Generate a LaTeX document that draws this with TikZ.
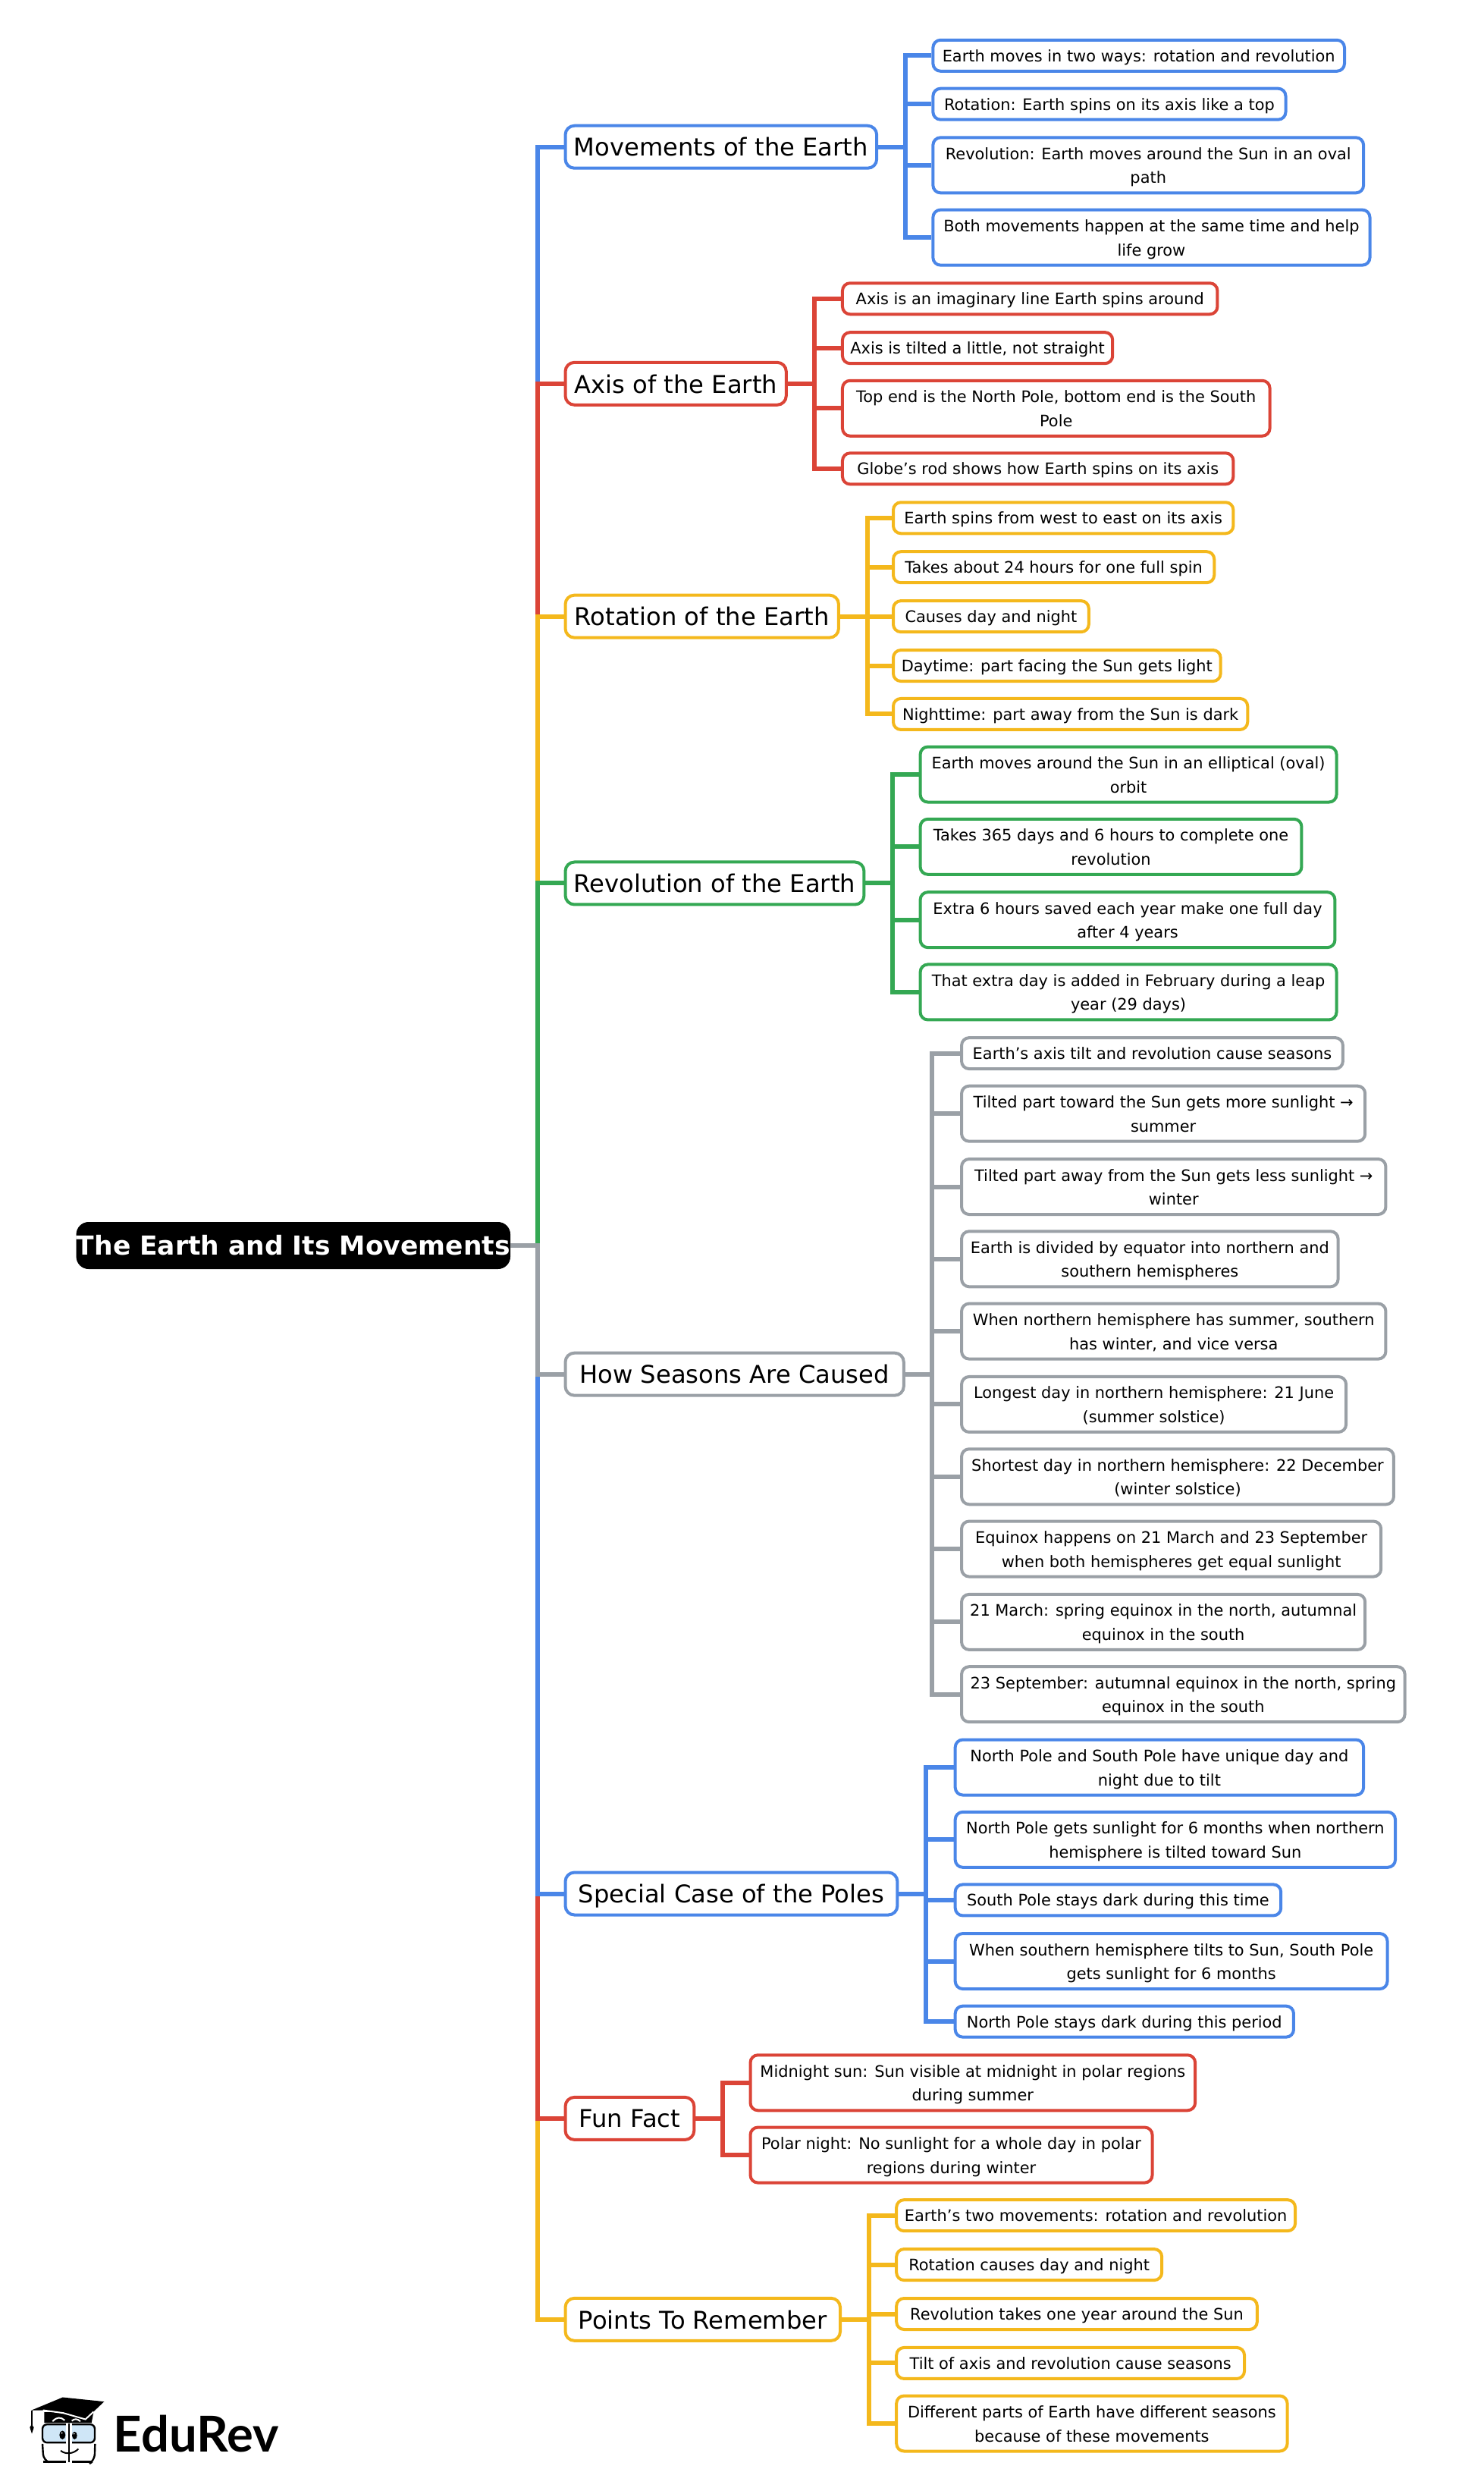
\documentclass[tikz,border=0pt]{standalone}
\usepackage{fontspec}
\setmainfont{DejaVu Sans}
\newfontfamily\logofont{Lato}
\definecolor{mapblue}{HTML}{4A86E8}
\definecolor{mapred}{HTML}{DB4437}
\definecolor{mapyellow}{HTML}{F4B81C}
\definecolor{mapgreen}{HTML}{34A853}
\definecolor{mapgray}{HTML}{9AA0A6}
\definecolor{logoglass}{HTML}{CFE6F7}
\newcommand\leafstrut{\rule[-3.9pt]{0pt}{15.7pt}}
\newcommand\twostrut{\rule[-3.9pt]{0pt}{31.8pt}}
\tikzset{
  boxw/.style={minimum width=1.0472pt*#1-2pt},
  rootbox/.style={draw=black,fill=black,text=white,anchor=west,inner sep=0pt,rounded corners=8pt,
    minimum height=30.6pt,font=\fontsize{17.25}{20}\selectfont\bfseries},
  branchbox/.style={draw=#1,line width=2pt,fill=white,anchor=west,inner sep=0pt,rounded corners=6pt,
    minimum height=28pt,text depth=0pt,font=\fontsize{16.1}{19}\selectfont},
  leafbox/.style={draw=#1,line width=2pt,fill=white,anchor=west,inner sep=0pt,rounded corners=5pt,
    minimum height=20.5pt,align=center,font=\fontsize{10.45}{15.75}\selectfont,
    execute at begin node=\leafstrut},
  two/.style={minimum height=36.5pt,execute at begin node=\twostrut},
  elbow/.style={to path={(\tikztostart.east) -- ++(#1,0) |- (\tikztotarget.west)}},
  linkline/.style={draw=#1,line width=3pt}
}
\begin{document}
\begin{tikzpicture}[x=1.0472pt,y=-1.0472pt]
  \useasboundingbox (0,0) rectangle (934.4,1568);
  \node[rootbox,boxw=273] (root) at (48,784) {The Earth and Its Movements};
  \node[branchbox=mapblue,boxw=198] (b1) at (355,92.5) {Movements of the Earth};
  \node[branchbox=mapred,boxw=141] (b2) at (355,241.5) {Axis of the Earth};
  \node[branchbox=mapyellow,boxw=174] (b3) at (355,388) {Rotation of the Earth};
  \node[branchbox=mapgreen,boxw=190] (b4) at (355,556) {Revolution of the Earth};
  \node[branchbox=mapgray,boxw=215] (b5) at (355,865) {How Seasons Are Caused};
  \node[branchbox=mapblue,boxw=211] (b6) at (355,1192) {Special Case of the Poles};
  \node[branchbox=mapred,boxw=83] (b7) at (355,1333.5) {Fun Fact};
  \node[branchbox=mapyellow,boxw=175] (b8) at (355,1460) {Points To Remember};
  % trunk
  \path[elbow=17] (root) edge[linkline=mapblue] (b1);
  \path[elbow=17] (root) edge[linkline=mapred] (b2);
  \path[elbow=17] (root) edge[linkline=mapyellow] (b3);
  \path[elbow=17] (root) edge[linkline=mapgreen] (b4);
  \path[elbow=17] (root) edge[linkline=mapyellow] (b8);
  \path[elbow=17] (root) edge[linkline=mapred] (b7);
  \path[elbow=17] (root) edge[linkline=mapblue] (b6);
  \path[elbow=17] (root) edge[linkline=mapgray] (b5);
  % movements
  \begin{scope}[every node/.style={leafbox=mapblue},every edge/.style={linkline=mapblue,elbow=17}]
  \node[boxw=261] (l11) at (586.5,35) {Earth moves in two ways: rotation and revolution};
  \node[boxw=224] (l12) at (586.5,65.5) {Rotation: Earth spins on its axis like a top};
  \node[two,boxw=273] (l13) at (586.5,104) {Revolution: Earth moves around the Sun in an oval\\path};
  \node[two,boxw=277] (l14) at (586.5,149.5) {Both movements happen at the same time and help\\life grow};
  \path (b1) edge (l11);
  \path (b1) edge (l12);
  \path (b1) edge (l13);
  \path (b1) edge (l14);
  \end{scope}
  % axis
  \begin{scope}[every node/.style={leafbox=mapred},every edge/.style={linkline=mapred,elbow=17}]
  \node[boxw=238] (l21) at (529.5,188) {Axis is an imaginary line Earth spins around};
  \node[boxw=172] (l22) at (529.5,219) {Axis is tilted a little, not straight};
  \node[two,boxw=271] (l23) at (529.5,257) {Top end is the North Pole, bottom end is the South\\Pole};
  \node[boxw=248] (l24) at (529.5,295) {Globe’s rod shows how Earth spins on its axis};
  \path (b2) edge (l21);
  \path (b2) edge (l22);
  \path (b2) edge (l23);
  \path (b2) edge (l24);
  \end{scope}
  % rotation
  \begin{scope}[every node/.style={leafbox=mapyellow},every edge/.style={linkline=mapyellow,elbow=17}]
  \node[boxw=216] (l31) at (561.5,326) {Earth spins from west to east on its axis};
  \node[boxw=204] (l32) at (561.5,357) {Takes about 24 hours for one full spin};
  \node[boxw=125] (l33) at (561.5,388) {Causes day and night};
  \node[boxw=208] (l34) at (561.5,419) {Daytime: part facing the Sun gets light};
  \node[boxw=225] (l35) at (561.5,449.5) {Nighttime: part away from the Sun is dark};
  \path (b3) edge (l31);
  \path (b3) edge (l32);
  \path (b3) edge (l33);
  \path (b3) edge (l34);
  \path (b3) edge (l35);
  \end{scope}
  % revolution
  \begin{scope}[every node/.style={leafbox=mapgreen},every edge/.style={linkline=mapgreen,elbow=17}]
  \node[two,boxw=264] (l41) at (578.5,487.5) {Earth moves around the Sun in an elliptical (oval)\\orbit};
  \node[two,boxw=242] (l42) at (578.5,533) {Takes 365 days and 6 hours to complete one\\revolution};
  \node[two,boxw=263] (l43) at (578.5,579) {Extra 6 hours saved each year make one full day\\after 4 years};
  \node[two,boxw=264] (l44) at (578.5,624.5) {That extra day is added in February during a leap\\year (29 days)};
  \path (b4) edge (l41);
  \path (b4) edge (l42);
  \path (b4) edge (l43);
  \path (b4) edge (l44);
  \end{scope}
  % seasons
  \begin{scope}[every node/.style={leafbox=mapgray},every edge/.style={linkline=mapgray,elbow=17}]
  \node[boxw=242] (l51) at (604.5,663) {Earth’s axis tilt and revolution cause seasons};
  \node[two,boxw=256] (l52) at (604.5,701) {Tilted part toward the Sun gets more sunlight →\\summer};
  \node[two,boxw=269] (l53) at (604.5,747) {Tilted part away from the Sun gets less sunlight →\\winter};
  \node[two,boxw=239] (l54) at (604.5,792.5) {Earth is divided by equator into northern and\\southern hemispheres};
  \node[two,boxw=269] (l55) at (604.5,838) {When northern hemisphere has summer, southern\\has winter, and vice versa};
  \node[two,boxw=244] (l56) at (604.5,884) {Longest day in northern hemisphere: 21 June\\(summer solstice)};
  \node[two,boxw=274] (l57) at (604.5,929.5) {Shortest day in northern hemisphere: 22 December\\(winter solstice)};
  \node[two,boxw=266] (l58) at (604.5,975) {Equinox happens on 21 March and 23 September\\when both hemispheres get equal sunlight};
  \node[two,boxw=256] (l59) at (604.5,1021) {21 March: spring equinox in the north, autumnal\\equinox in the south};
  \node[two,boxw=281] (l510) at (604.5,1066.5) {23 September: autumnal equinox in the north, spring\\equinox in the south};
  \path (b5) edge (l51);
  \path (b5) edge (l52);
  \path (b5) edge (l53);
  \path (b5) edge (l54);
  \path (b5) edge (l55);
  \path (b5) edge (l56);
  \path (b5) edge (l57);
  \path (b5) edge (l58);
  \path (b5) edge (l59);
  \path (b5) edge (l510);
  \end{scope}
  % poles
  \begin{scope}[every node/.style={leafbox=mapblue},every edge/.style={linkline=mapblue,elbow=17}]
  \node[two,boxw=259] (l61) at (600.5,1112.5) {North Pole and South Pole have unique day and\\night due to tilt};
  \node[two,boxw=279] (l62) at (600.5,1158) {North Pole gets sunlight for 6 months when northern\\hemisphere is tilted toward Sun};
  \node[boxw=207] (l63) at (600.5,1196) {South Pole stays dark during this time};
  \node[two,boxw=274] (l64) at (600.5,1234.5) {When southern hemisphere tilts to Sun, South Pole\\gets sunlight for 6 months};
  \node[boxw=215] (l65) at (600.5,1272.5) {North Pole stays dark during this period};
  \path (b6) edge (l61);
  \path (b6) edge (l62);
  \path (b6) edge (l63);
  \path (b6) edge (l64);
  \path (b6) edge (l65);
  \end{scope}
  % fun fact
  \begin{scope}[every node/.style={leafbox=mapred},every edge/.style={linkline=mapred,elbow=17}]
  \node[two,boxw=282] (l71) at (471.5,1311) {Midnight sun: Sun visible at midnight in polar regions\\during summer};
  \node[two,boxw=255] (l72) at (471.5,1356.5) {Polar night: No sunlight for a whole day in polar\\regions during winter};
  \path (b7) edge (l71);
  \path (b7) edge (l72);
  \end{scope}
  % remember
  \begin{scope}[every node/.style={leafbox=mapyellow},every edge/.style={linkline=mapyellow,elbow=17}]
  \node[boxw=253] (l81) at (563.5,1394.5) {Earth’s two movements: rotation and revolution};
  \node[boxw=169] (l82) at (563.5,1425.5) {Rotation causes day and night};
  \node[boxw=229] (l83) at (563.5,1456.5) {Revolution takes one year around the Sun};
  \node[boxw=221] (l84) at (563.5,1487.5) {Tilt of axis and revolution cause seasons};
  \node[two,boxw=248] (l85) at (563.5,1525.5) {Different parts of Earth have different seasons\\because of these movements};
  \path (b8) edge (l81);
  \path (b8) edge (l82);
  \path (b8) edge (l83);
  \path (b8) edge (l84);
  \path (b8) edge (l85);
  \end{scope}
  % logo
  \begin{scope}[shift={(0,1480.2)},x=0.1667pt,y=-0.1667pt]
  \fill[black] (175,240) -- (175,282) -- (362,282) -- (370,240) -- cycle;
  \fill[black] (125,232) -- (248,181) -- (412,198) -- (338,268) -- (250,243) -- (170,232) -- cycle;
  \draw[white,line width=1pt] (170,232) -- (250,243) -- (338,268) -- (370,238);
  \draw[black,line width=1pt] (125,232) -- (125,292);
  \fill[black] (125,288) -- (134,300) -- (126,325) -- (118,300) -- cycle;
  \draw[white,line width=1pt] (208,276) .. controls (225,258) and (240,258) .. (256,272);
  \draw[white,line width=1pt] (284,274) .. controls (295,265) and (305,265) .. (318,276);
  \draw[black,fill=logoglass,line width=1.2pt,rounded corners=3pt] (168,288) rectangle (375,360);
  \draw[black,line width=1.2pt,rounded corners=4pt] (190,436) -- (172,430) -- (168,365);
  \draw[black,line width=1.2pt,rounded corners=4pt] (365,436) -- (374,430) -- (376,365);
  \draw[black,line width=1.2pt] (172,436) -- (262,436) (284,436) -- (365,436);
  \fill[white] (262,283) rectangle (284,440);
  \draw[black,line width=1.2pt] (273,283) -- (273,438);
  \fill[black] (247,330) ellipse [x radius=12,y radius=17];
  \fill[black] (295,332) ellipse [x radius=10,y radius=15];
  \fill[white] (245,322) circle (3);
  \fill[white] (293,325) circle (3);
  \draw[black,line width=1pt] (240,392) .. controls (260,408) and (290,405) .. (310,385);
  \node[anchor=base west,inner sep=0pt,font=\logofont\fontsize{32.6}{33}\selectfont\bfseries] (logo) at (448,398) {EduRev};
  \end{scope}
\end{tikzpicture}
\end{document}
